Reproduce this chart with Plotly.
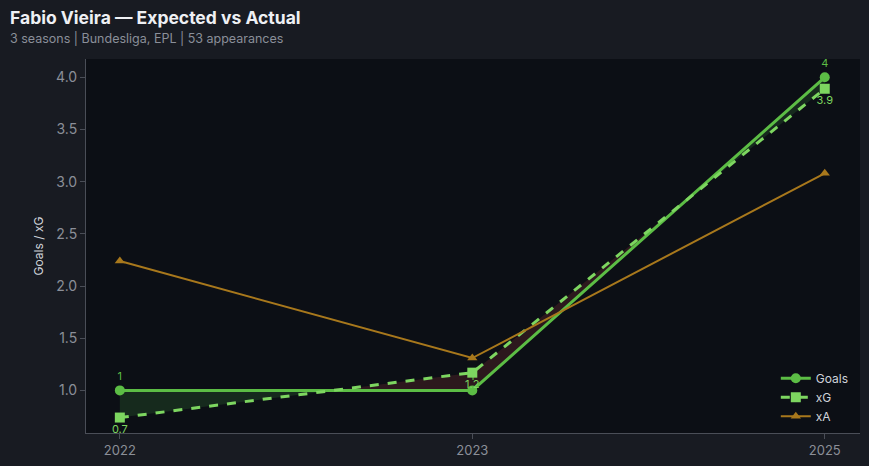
import plotly.graph_objects as go

seasons = ["2022", "2023", "2025"]
goals = [1.0, 1.0, 4.0]
xg = [0.74, 1.17, 3.89]
xa = [2.24, 1.31, 3.08]

goals_labels = ["1", "1", "4"]
xg_labels = ["0.7", "1.2", "3.9"]

C_GOALS = "#5cbd45"
C_XG = "#7dd660"
C_XA = "#a8781c"

x = list(range(len(seasons)))

W, H = 869, 466
ML, MR, MT, MB = 86, 9, 59, 33
PW, PH = W - ML - MR, H - MT - MB

# Build fill polygons between Goals and xG, split at crossings
def segments(xs, a, b):
    pts = []
    for i in range(len(xs)):
        pts.append((xs[i], a[i], b[i]))
        if i < len(xs) - 1:
            d0 = a[i] - b[i]
            d1 = a[i + 1] - b[i + 1]
            if d0 * d1 < 0:
                t = d0 / (d0 - d1)
                xc = xs[i] + t * (xs[i + 1] - xs[i])
                yc = a[i] + t * (a[i + 1] - a[i])
                pts.append((xc, yc, yc))
    polys = []
    cur = [pts[0]]
    for p in pts[1:]:
        cur.append(p)
        if abs(p[1] - p[2]) < 1e-12 and p is not pts[-1]:
            polys.append(cur)
            cur = [p]
    if len(cur) > 1:
        polys.append(cur)
    return polys

fig = go.Figure()

for poly in segments(x, goals, xg):
    diff = sum(p[1] - p[2] for p in poly)
    color = "rgba(60,140,60,0.22)" if diff > 0 else "rgba(120,45,50,0.30)"
    px = [p[0] for p in poly] + [p[0] for p in reversed(poly)]
    py = [p[1] for p in poly] + [p[2] for p in reversed(poly)]
    fig.add_trace(go.Scatter(x=px, y=py, fill="toself", fillcolor=color,
                             line=dict(width=0), mode="lines",
                             hoverinfo="skip", showlegend=False))

fig.add_trace(go.Scatter(
    x=x, y=goals, name="Goals", mode="lines+markers+text",
    line=dict(color=C_GOALS, width=3),
    marker=dict(symbol="circle", size=10, color=C_GOALS),
    text=goals_labels, textposition="top center",
    textfont=dict(color=C_GOALS, size=11, family="Inter"),
))
fig.add_trace(go.Scatter(
    x=x, y=xg, name="xG", mode="lines+markers+text",
    line=dict(color=C_XG, width=3, dash="dash"),
    marker=dict(symbol="square", size=10, color=C_XG),
    text=xg_labels, textposition="bottom center",
    textfont=dict(color=C_XG, size=11, family="Inter"),
))
fig.add_trace(go.Scatter(
    x=x, y=xa, name="xA", mode="lines+markers",
    line=dict(color=C_XA, width=2),
    marker=dict(symbol="triangle-up", size=9, color=C_XA),
))

def px_x(p):
    return (p - ML) / PW

def px_y(p):
    return 1 + (MT - p) / PH

fig.update_layout(
    width=W, height=H,
    paper_bgcolor="#181b22", plot_bgcolor="#0c0f15",
    margin=dict(l=ML, r=MR, t=MT, b=MB),
    font=dict(family="Inter", color="#8b8f98"),
    annotations=[
        dict(text="<b>Fabio Vieira — Expected vs Actual</b>", xref="paper", yref="paper",
             x=px_x(8), y=px_y(5), xanchor="left", yanchor="top", showarrow=False,
             font=dict(size=17.5, color="#eef0f4", family="Inter")),
        dict(text="3 seasons | Bundesliga, EPL | 53 appearances", xref="paper", yref="paper",
             x=px_x(8), y=px_y(29), xanchor="left", yanchor="top", showarrow=False,
             font=dict(size=12.5, color="#8a8f99", family="Inter")),
    ],
    legend=dict(x=0.992, xanchor="right", y=0.006, yanchor="bottom",
                bgcolor="rgba(0,0,0,0)", font=dict(color="#d0d3da", size=12)),
    showlegend=True,
)
fig.update_xaxes(
    tickmode="array", tickvals=x, ticktext=seasons,
    range=[-0.096, 2.1], showgrid=False, zeroline=False,
    showline=True, linecolor="#4a4e57", ticks="outside", tickcolor="#4a4e57",
    ticklen=5, tickfont=dict(size=13, color="#8b8f98"),
)
fig.update_yaxes(
    range=[0.592, 4.175], dtick=0.5, tickformat=".1f", showgrid=False, zeroline=False,
    showline=True, linecolor="#4a4e57", ticks="outside", tickcolor="#4a4e57",
    ticklen=5, tickfont=dict(size=14, color="#8b8f98"),
    title=dict(text="Goals / xG", font=dict(size=12, color="#d0d3da"), standoff=9),
)

fig.write_html("out.html", config={"displayModeBar": False},
               post_script="document.body.style.margin='0';document.body.style.background='#181b22';")
